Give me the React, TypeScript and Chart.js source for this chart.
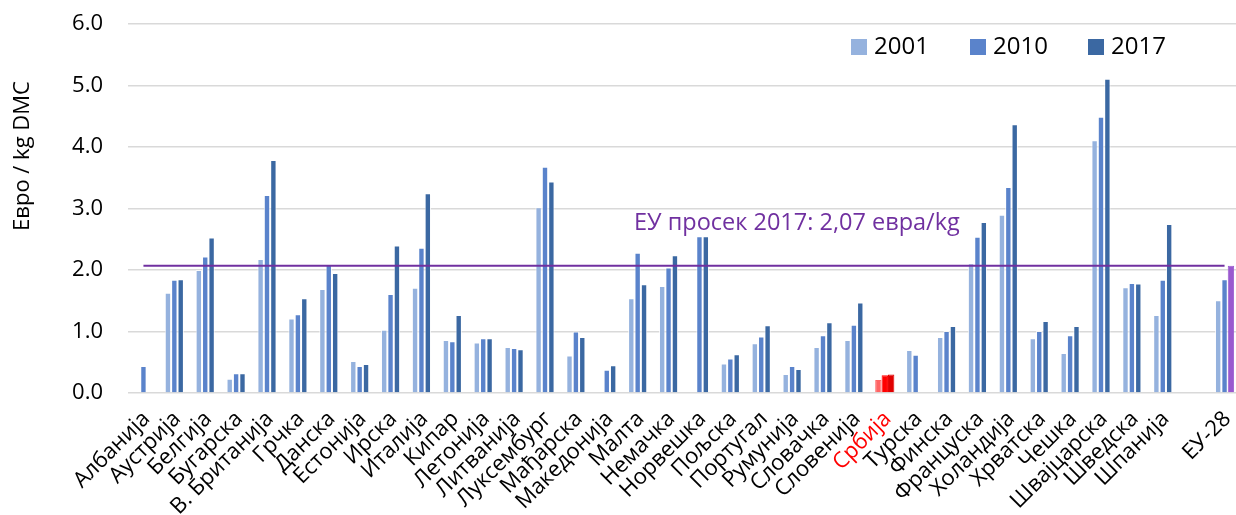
import { useEffect, useRef } from "react";
import { Chart, registerables } from "chart.js";

Chart.register(...registerables);

const categories = [
  "Албанија", "Аустрија", "Белгија", "Бугарска", "В. Британија", "Грчка", "Данска", "Естонија",
  "Ирска", "Италија", "Кипар", "Летонија", "Литванија", "Луксембург", "Мађарска", "Македонија",
  "Малта", "Немачка", "Норвешка", "Пољска", "Португал", "Румунија", "Словачка", "Словенија",
  "Србија", "Турска", "Финска", "Француска", "Холандија", "Хрватска", "Чешка", "Швајцарска",
  "Шведска", "Шпанија", "", "ЕУ-28",
];

const series2001 = [
  null, 1.63, 2.0, 0.23, 2.18, 1.21, 1.69, 0.52,
  1.03, 1.71, 0.86, 0.82, 0.75, 3.02, 0.61, null,
  1.54, 1.74, null, 0.48, 0.81, 0.31, 0.75, 0.86,
  0.21, 0.7, 0.91, 2.11, 2.9, 0.89, 0.65, 4.11,
  1.72, 1.27, null, 1.51,
];

const series2010 = [
  0.44, 1.84, 2.22, 0.32, 3.22, 1.28, 2.09, 0.44,
  1.61, 2.36, 0.84, 0.89, 0.73, 3.68, 1.0, 0.38,
  2.28, 2.04, 2.55, 0.56, 0.92, 0.44, 0.94, 1.11,
  0.29, 0.62, 1.01, 2.54, 3.35, 1.01, 0.94, 4.49,
  1.79, 1.84, null, 1.85,
];

const series2017 = [
  null, 1.85, 2.53, 0.32, 3.79, 1.54, 1.95, 0.47,
  2.4, 3.25, 1.27, 0.89, 0.71, 3.44, 0.91, 0.45,
  1.77, 2.24, 2.55, 0.63, 1.1, 0.39, 1.15, 1.47,
  0.3, null, 1.09, 2.78, 4.37, 1.17, 1.09, 5.11,
  1.78, 2.75, null, 2.07,
];

const seriesLabels = ["2001", "2010", "2017"];
const euAverage2017 = 2.07;
const euAverageLabel = "ЕУ просек 2017: 2,07 евра/kg";
const yAxisTitle = "Евро / kg DMC";
const yMin = 0;
const yMax = 6;
const yStep = 1;

const FONT = "'Open Sans', 'Noto Sans', sans-serif";
const baseColors = ["#95B2DE", "#5A83CB", "#3B68A2"];
const serbiaColors = ["#FF6464", "#FF0000", "#E00000"];
const euColor2017 = "#9A59CF";
const lineColor = "#7030A0";
const serbiaIndex = categories.indexOf("Србија");
const euIndex = categories.indexOf("ЕУ-28");

function colorsFor(seriesIdx: number) {
  return categories.map((_, i) => {
    if (i === serbiaIndex) return serbiaColors[seriesIdx];
    if (i === euIndex && seriesIdx === 2) return euColor2017;
    return baseColors[seriesIdx];
  });
}
function bordersFor(seriesIdx: number) {
  return categories.map((_, i) => {
    if (i === serbiaIndex) return serbiaColors[seriesIdx];
    if (i === euIndex && seriesIdx === 2) return euColor2017;
    return "rgba(255,255,255,0.75)";
  });
}

const overlayPlugin = {
  id: "overlay",
  afterDraw(chart: any) {
    const { ctx } = chart;
    const yScale = chart.scales.y;
    ctx.save();
    ctx.fillStyle = lineColor;
    ctx.font = `23.5px ${FONT}`;
    ctx.textAlign = "left";
    ctx.textBaseline = "alphabetic";
    ctx.fillText(euAverageLabel, 634, yScale.getPixelForValue(euAverage2017) - 36);
    ctx.restore();

    ctx.save();
    ctx.translate(23, 156);
    ctx.rotate(-Math.PI / 2);
    ctx.fillStyle = "#000";
    ctx.font = `22px ${FONT}`;
    ctx.textAlign = "center";
    ctx.textBaseline = "middle";
    ctx.fillText(yAxisTitle, 0, 0);
    ctx.restore();

    const legendX = [851, 970, 1088];
    ctx.save();
    ctx.font = `24px ${FONT}`;
    ctx.textBaseline = "middle";
    ctx.textAlign = "left";
    seriesLabels.forEach((lab, i) => {
      ctx.fillStyle = baseColors[i];
      ctx.fillRect(legendX[i], 39, 16, 16);
      ctx.fillStyle = "#000";
      ctx.fillText(lab, legendX[i] + 23, 47);
    });
    ctx.restore();
  },
};

export default function App() {
  const ref = useRef<HTMLCanvasElement | null>(null);
  useEffect(() => {
    if (!ref.current) return;
    const barSets = [series2001, series2010, series2017].map((d, i) => ({
      type: "bar" as const,
      label: seriesLabels[i],
      data: d,
      backgroundColor: colorsFor(i),
      borderColor: bordersFor(i),
      borderWidth: 1,
      barPercentage: 1,
      categoryPercentage: 0.62,
      order: 1,
    }));
    const chart = new Chart(ref.current, {
      type: "bar",
      data: {
        labels: categories,
        datasets: [
          ...barSets,
          {
            type: "line" as const,
            label: "ЕУ просек",
            data: categories.map(() => euAverage2017),
            borderColor: lineColor,
            borderWidth: 2,
            pointRadius: 0,
            fill: false,
            order: 0,
          } as any,
        ],
      },
      options: {
        responsive: false,
        animation: false,
        devicePixelRatio: 1,
        layout: { padding: { top: 24, right: 0, bottom: 0, left: 0 } },
        plugins: { legend: { display: false }, tooltip: { enabled: false } },
        scales: {
          x: {
            grid: { display: false },
            border: { display: false },
            ticks: {
              autoSkip: false,
              minRotation: 45,
              maxRotation: 45,
              padding: 5,
              labelOffset: 3,
              font: { family: FONT, size: 22 },
              color: (c: any) => (c.index === serbiaIndex ? "#FF0000" : "#000"),
            },
            afterFit: (s: any) => {
              s.height = 122;
              s.paddingLeft = 0;
              s.paddingRight = 0;
            },
          },
          y: {
            min: yMin,
            max: yMax,
            grid: { color: "#D9D9D9", lineWidth: 1.5, drawTicks: false },
            border: { display: false },
            ticks: {
              stepSize: yStep,
              padding: 25,
              font: { family: FONT, size: 22 },
              color: "#000",
              callback: (v: any) => Number(v).toFixed(1),
            },
            afterFit: (s: any) => {
              s.width = 128;
              s.paddingTop = 0;
              s.paddingBottom = 0;
            },
          },
        },
      },
      plugins: [overlayPlugin],
    });
    return () => chart.destroy();
  }, []);
  return (
    <div style={{ position: "fixed", left: 0, top: 0, width: 1236, height: 515, overflow: "hidden", background: "#fff" }}>
      <canvas ref={ref} width={1240} height={515} style={{ width: 1240, height: 515, display: "block" }} />
    </div>
  );
}
